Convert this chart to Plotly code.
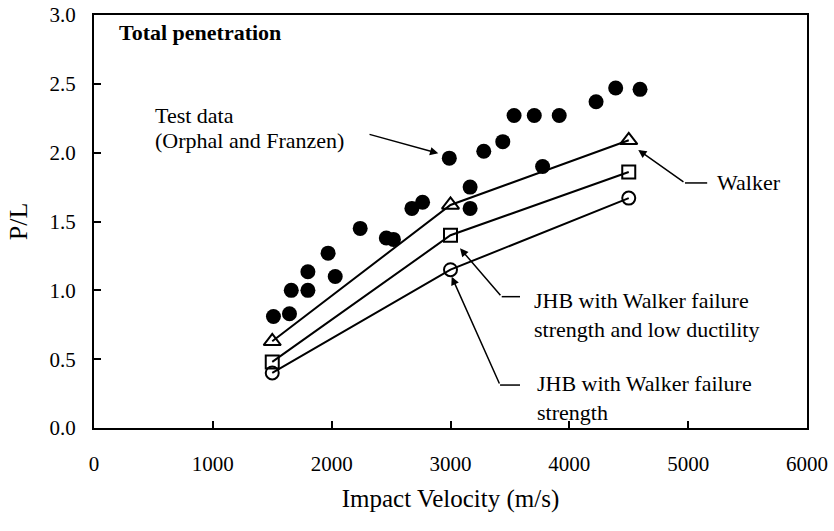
import plotly.graph_objects as go

# test data (Orphal and Franzen)
test_v = [1510, 1645, 1660, 1800, 1800, 1970, 2030, 2240, 2460, 2520, 2675, 2765,
          2990, 3165, 3165, 3280, 3440, 3535, 3705, 3775, 3915, 4225, 4390, 4595]
test_pl = [0.81, 0.83, 1.00, 1.00, 1.135, 1.27, 1.10, 1.45, 1.38, 1.37, 1.595, 1.64,
           1.96, 1.75, 1.595, 2.01, 2.08, 2.27, 2.27, 1.90, 2.27, 2.37, 2.47, 2.46]

# computed curves
calc_v = [1500, 3000, 4500]
walker_pl = [0.63, 1.62, 2.09]
jhb_low_duct_pl = [0.48, 1.40, 1.86]
jhb_pl = [0.40, 1.15, 1.67]

x_ticks = [0, 1000, 2000, 3000, 4000, 5000, 6000]
y_ticks = [0.0, 0.5, 1.0, 1.5, 2.0, 2.5, 3.0]

serif = "Liberation Serif, Times New Roman, serif"

fig = go.Figure()

fig.add_trace(go.Scatter(x=test_v, y=test_pl, mode='markers',
                         marker=dict(symbol='circle', size=15, color='black'),
                         name='Test data'))

line_style = dict(color='black', width=2)
fig.add_trace(go.Scatter(x=calc_v, y=walker_pl, mode='lines+markers', line=line_style,
                         marker=dict(symbol='triangle-up-open', size=15, color='black',
                                     line=dict(width=2)),
                         name='Walker'))
fig.add_trace(go.Scatter(x=calc_v, y=jhb_low_duct_pl, mode='lines+markers', line=line_style,
                         marker=dict(symbol='square-open', size=13, color='black',
                                     line=dict(width=2)),
                         name='JHB low ductility'))
fig.add_trace(go.Scatter(x=calc_v, y=jhb_pl, mode='lines+markers', line=line_style,
                         marker=dict(symbol='circle-open', size=13, color='black',
                                     line=dict(width=2)),
                         name='JHB'))

txt = dict(family=serif, size=22, color='black')
arrow = dict(showarrow=True, arrowhead=2, arrowsize=1.1, arrowwidth=1.5,
             arrowcolor='black', standoff=0, axref='x', ayref='y', text='')

annotations = [
    dict(x=190, y=2.87, text='<b>Total penetration</b>', showarrow=False,
         xanchor='left', yanchor='middle', font=txt),
    dict(x=497, y=2.27, text='Test data', showarrow=False,
         xanchor='left', yanchor='middle', font=txt),
    dict(x=497, y=2.09, text='(Orphal and Franzen)', showarrow=False,
         xanchor='left', yanchor='middle', font=txt),
    dict(x=5226, y=1.78, text='Walker', showarrow=False,
         xanchor='left', yanchor='middle', font=txt),
    dict(x=3683, y=0.82, text='JHB with Walker failure<br>strength and low ductility',
         showarrow=False, xanchor='left', yanchor='middle', align='left', font=txt),
    dict(x=3711, y=0.22, text='JHB with Walker failure<br>strength',
         showarrow=False, xanchor='left', yanchor='middle', align='left', font=txt),
    dict(x=2897, y=1.995, ax=2306, ay=2.136, **arrow),
    dict(x=4580, y=2.02, ax=4973, ay=1.78, **arrow),
    dict(x=3080, y=1.305, ax=3431, ay=0.954, **arrow),
    dict(x=3010, y=1.099, ax=3417, ay=0.312, **arrow),
]

shapes = [
    dict(type='line', x0=4973, x1=5160, y0=1.78, y1=1.78, line=dict(color='black', width=1.5)),
    dict(type='line', x0=3431, x1=3585, y0=0.954, y1=0.954, line=dict(color='black', width=1.5)),
    dict(type='line', x0=3417, x1=3585, y0=0.312, y1=0.312, line=dict(color='black', width=1.5)),
]

axis_common = dict(showline=True, linecolor='black', linewidth=2, mirror=True,
                   ticks='inside', ticklen=7, tickwidth=1.5, tickcolor='black',
                   showgrid=False, zeroline=False, automargin=False,
                   ticklabeloverflow='allow',
                   tickfont=dict(family=serif, size=21, color='black'))

fig.update_layout(
    width=834, height=531,
    margin=dict(l=94, r=27, t=15, b=103),
    plot_bgcolor='white', paper_bgcolor='white',
    showlegend=False,
    font=dict(family=serif, color='black'),
    xaxis=dict(range=[0, 6000], tickvals=x_ticks, ticklabelstandoff=16,
               title=dict(text='Impact Velocity (m/s)', font=dict(family=serif, size=25),
                          standoff=14),
               **axis_common),
    yaxis=dict(range=[0, 3], tickvals=y_ticks, tickformat='.1f', ticklabelstandoff=12,
               title=dict(text='P/L', font=dict(family=serif, size=26), standoff=14),
               **axis_common),
    annotations=annotations,
    shapes=shapes,
)

# drop the default page margin so the figure sits at the window corner
fig.write_html("out.html", config={'displayModeBar': False},
               post_script="document.body.style.margin = '0';")
